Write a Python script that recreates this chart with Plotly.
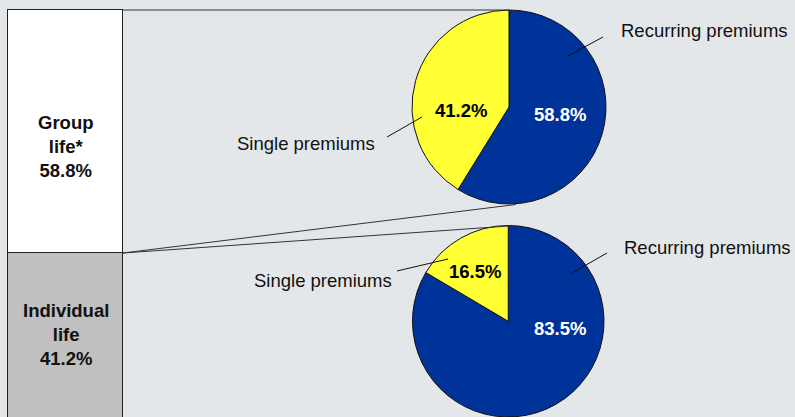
import plotly.graph_objects as go

# Life insurance premium split
segments = ["Individual life", "Group life*"]
segment_share = [41.2, 58.8]
segment_colors = ["#C0C0C0", "#FFFFFF"]

pie_labels = ["Recurring premiums", "Single premiums"]
group_split = [58.8, 41.2]
individual_split = [83.5, 16.5]
pie_colors = ["#003399", "#FFFF33"]
pie_text_colors = ["white", "black"]

W, H = 795, 417
BG = "#E4E7EA"
FONT = "Liberation Sans, Arial, sans-serif"
FS = 18.5


def px(x):
    return x / W


def py(y):
    return 1 - y / H


fig = go.Figure()

# Stacked share bar on the left
for name, val, col in zip(segments, segment_share, segment_colors):
    fig.add_trace(go.Bar(
        x=[65.5], y=[val], width=[115], name=name,
        marker=dict(color=col, line=dict(color="#222222", width=1)),
        hoverinfo="skip", showlegend=False,
    ))

# Two pies: group life (top) and individual life (bottom)
pie_domains = [
    dict(x=[px(412), px(606)], y=[py(204), py(10)]),
    dict(x=[px(412.5), px(604)], y=[0, py(225.5)]),
]
for vals, dom in zip([group_split, individual_split], pie_domains):
    fig.add_trace(go.Pie(
        labels=pie_labels, values=vals, domain=dom,
        sort=False, direction="clockwise", rotation=0,
        marker=dict(colors=pie_colors, line=dict(color="#111111", width=1)),
        textinfo="none",
        hoverinfo="skip", showlegend=False,
    ))

shapes = []
# Connector lines from the bar to the pies
for (x0, y0, x1, y1) in [(123, 10, 509, 10), (123, 253, 516, 204.5), (123, 253, 509, 226)]:
    shapes.append(dict(type="line", xref="paper", yref="paper",
                       x0=px(x0), y0=py(y0), x1=px(x1), y1=py(y1),
                       line=dict(color="#333333", width=1)))
# Leader lines for the pie labels
for (x0, y0, x1, y1) in [(603, 37, 568, 56), (387, 137, 422, 117),
                         (397, 271, 448, 259), (607, 253, 572, 273)]:
    shapes.append(dict(type="line", xref="paper", yref="paper",
                       x0=px(x0), y0=py(y0), x1=px(x1), y1=py(y1),
                       line=dict(color="#111111", width=1)))

annotations = []
# Pie category labels
for text, x, y, anchor in [(pie_labels[0], 619, 31, "left"),
                           (pie_labels[1], 377, 143, "right"),
                           (pie_labels[1], 394, 280, "right"),
                           (pie_labels[0], 622, 247, "left")]:
    annotations.append(dict(text=text, xref="paper", yref="paper", x=px(x), y=py(y),
                            xanchor=anchor, yanchor="middle", showarrow=False,
                            font=dict(size=FS, color="#111111", family=FONT)))

# Percentage labels inside the pie slices
pie_label_pos = [[(560, 114), (461, 110)], [(560, 328.5), (475, 271)]]
for vals, positions in zip([group_split, individual_split], pie_label_pos):
    for v, (x, y), col in zip(vals, positions, pie_text_colors):
        annotations.append(dict(text=f"<b>{v:.1f}%</b>", xref="paper", yref="paper",
                                x=px(x), y=py(y), xanchor="center", yanchor="middle",
                                showarrow=False,
                                font=dict(size=FS, color=col, family=FONT)))

# Bar segment labels
bar_label_text = ["Individual<br>life", "Group<br>life*"]
for lbl, val, y in zip(bar_label_text, segment_share, [334, 146]):
    annotations.append(dict(text=f"<b>{lbl}<br>{val:.1f}%</b>", xref="paper", yref="paper",
                            x=px(66), y=py(y), xanchor="center", yanchor="middle",
                            showarrow=False, align="center",
                            font=dict(size=FS, color="#111111", family=FONT)))

fig.update_layout(
    width=W, height=H, margin=dict(l=0, r=0, t=0, b=0),
    paper_bgcolor=BG, plot_bgcolor=BG,
    barmode="stack", bargap=0,
    xaxis=dict(range=[0, W], visible=False, fixedrange=True),
    yaxis=dict(range=[(423 - 417) / 4.13, 423 / 4.13], visible=False, fixedrange=True),
    shapes=shapes, annotations=annotations,
)

fig.write_html("out.html")
